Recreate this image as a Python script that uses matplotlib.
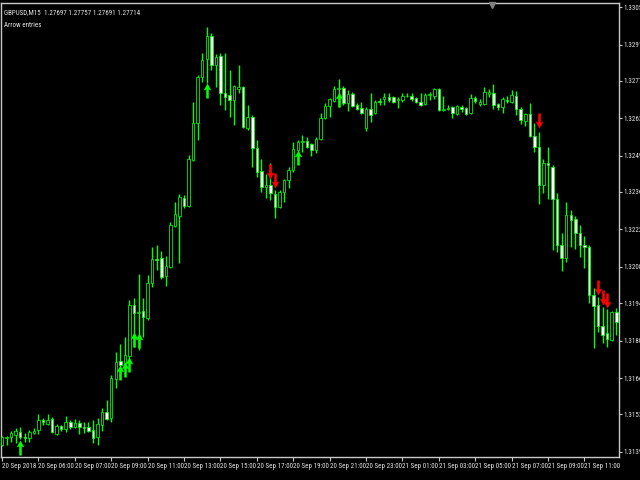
import matplotlib
matplotlib.use("Agg")
import matplotlib.pyplot as plt
import numpy as np
from matplotlib.path import Path

plt.rcParams["font.family"] = ["Noto Sans ExtraCondensed", "Noto Sans Condensed",
                               "Roboto Condensed", "Noto Sans", "DejaVu Sans"]
plt.rcParams["font.stretch"] = "extra-condensed"

# GBPUSD M15 bars
opens = [
    1.31416, 1.31442, 1.31446, 1.31453, 1.31465, 1.31446, 1.31442, 1.31461, 1.31472, 1.31509,
    1.31494, 1.31513, 1.31457, 1.31487, 1.31476, 1.31502, 1.31483, 1.31498, 1.31483, 1.31483,
    1.31472, 1.31446, 1.31491, 1.31539, 1.31517, 1.31662, 1.31729, 1.31715, 1.31748, 1.31938,
    1.31909, 1.31916, 1.31890, 1.32020, 1.32110, 1.32114, 1.32047, 1.32080, 1.32233, 1.32270,
    1.32337, 1.32308, 1.32479, 1.32617, 1.32789, 1.32856, 1.32942, 1.32834, 1.32867, 1.32729,
    1.32722, 1.32703, 1.32744, 1.32751, 1.32599, 1.32640, 1.32524, 1.32438, 1.32378, 1.32386,
    1.32352, 1.32304, 1.32360, 1.32405, 1.32442, 1.32517, 1.32546, 1.32550, 1.32539, 1.32517,
    1.32558, 1.32636, 1.32681, 1.32699, 1.32744, 1.32748, 1.32692, 1.32725, 1.32684, 1.32673,
    1.32599, 1.32669, 1.32655, 1.32699, 1.32707, 1.32714, 1.32714, 1.32703, 1.32703, 1.32718,
    1.32718, 1.32710, 1.32696, 1.32688, 1.32722, 1.32718, 1.32744, 1.32666, 1.32669, 1.32677,
    1.32651, 1.32677, 1.32673, 1.32655, 1.32710, 1.32688, 1.32688, 1.32725, 1.32729, 1.32688,
    1.32677, 1.32703, 1.32696, 1.32718, 1.32669, 1.32625, 1.32651, 1.32569, 1.32528, 1.32386,
    1.32468, 1.32453, 1.32334, 1.32162, 1.32114, 1.32274, 1.32259, 1.32207, 1.32162, 1.32155,
    1.31976, 1.31938, 1.31860, 1.31834, 1.31808, 1.31912,
]
highs = [
    1.31450, 1.31450, 1.31468, 1.31480, 1.31483, 1.31461, 1.31472, 1.31480, 1.31532, 1.31517,
    1.31532, 1.31521, 1.31494, 1.31491, 1.31524, 1.31509, 1.31513, 1.31509, 1.31502, 1.31502,
    1.31509, 1.31517, 1.31554, 1.31584, 1.31677, 1.31763, 1.31793, 1.31819, 1.31957, 1.31964,
    1.32054, 1.31964, 1.32050, 1.32155, 1.32162, 1.32140, 1.32121, 1.32248, 1.32323, 1.32352,
    1.32349, 1.32498, 1.32696, 1.32796, 1.32878, 1.32975, 1.32953, 1.32875, 1.32878, 1.32878,
    1.32815, 1.32759, 1.32834, 1.32755, 1.32684, 1.32647, 1.32554, 1.32483, 1.32427, 1.32468,
    1.32367, 1.32367, 1.32408, 1.32453, 1.32546, 1.32554, 1.32572, 1.32565, 1.32543, 1.32565,
    1.32655, 1.32692, 1.32710, 1.32755, 1.32781, 1.32755, 1.32740, 1.32733, 1.32692, 1.32696,
    1.32677, 1.32729, 1.32703, 1.32710, 1.32729, 1.32729, 1.32718, 1.32714, 1.32729, 1.32729,
    1.32729, 1.32714, 1.32729, 1.32729, 1.32733, 1.32748, 1.32748, 1.32718, 1.32684, 1.32681,
    1.32684, 1.32684, 1.32677, 1.32725, 1.32718, 1.32707, 1.32751, 1.32744, 1.32763, 1.32692,
    1.32714, 1.32718, 1.32740, 1.32737, 1.32677, 1.32655, 1.32692, 1.32617, 1.32584, 1.32483,
    1.32528, 1.32461, 1.32356, 1.32207, 1.32323, 1.32293, 1.32270, 1.32237, 1.32196, 1.32162,
    1.32002, 1.31968, 1.31931, 1.31923, 1.31916, 1.31927,
]
lows = [
    1.31412, 1.31416, 1.31427, 1.31424, 1.31439, 1.31427, 1.31427, 1.31457, 1.31457, 1.31491,
    1.31491, 1.31461, 1.31453, 1.31468, 1.31465, 1.31476, 1.31480, 1.31457, 1.31461, 1.31465,
    1.31424, 1.31416, 1.31468, 1.31509, 1.31502, 1.31629, 1.31666, 1.31703, 1.31733, 1.31782,
    1.31771, 1.31819, 1.31882, 1.32005, 1.32069, 1.32035, 1.32009, 1.32076, 1.32229, 1.32095,
    1.32300, 1.32304, 1.32475, 1.32554, 1.32770, 1.32766, 1.32815, 1.32751, 1.32684, 1.32666,
    1.32640, 1.32610, 1.32729, 1.32599, 1.32591, 1.32453, 1.32416, 1.32360, 1.32337, 1.32330,
    1.32263, 1.32300, 1.32323, 1.32375, 1.32434, 1.32479, 1.32509, 1.32524, 1.32494, 1.32505,
    1.32554, 1.32632, 1.32640, 1.32696, 1.32677, 1.32684, 1.32662, 1.32677, 1.32666, 1.32651,
    1.32587, 1.32621, 1.32651, 1.32684, 1.32684, 1.32696, 1.32692, 1.32673, 1.32696, 1.32714,
    1.32699, 1.32692, 1.32681, 1.32684, 1.32703, 1.32707, 1.32662, 1.32662, 1.32666, 1.32636,
    1.32647, 1.32658, 1.32647, 1.32651, 1.32692, 1.32681, 1.32684, 1.32714, 1.32669, 1.32666,
    1.32655, 1.32692, 1.32692, 1.32647, 1.32613, 1.32606, 1.32565, 1.32509, 1.32315, 1.32356,
    1.32334, 1.32144, 1.32136, 1.32065, 1.32099, 1.32155, 1.32147, 1.32117, 1.32076, 1.31946,
    1.31778, 1.31838, 1.31797, 1.31782, 1.31804, 1.31826,
]
closes = [
    1.31446, 1.31446, 1.31461, 1.31468, 1.31446, 1.31442, 1.31465, 1.31468, 1.31509, 1.31502,
    1.31509, 1.31465, 1.31487, 1.31476, 1.31502, 1.31483, 1.31498, 1.31483, 1.31480, 1.31468,
    1.31442, 1.31494, 1.31539, 1.31513, 1.31666, 1.31726, 1.31715, 1.31752, 1.31938, 1.31909,
    1.31912, 1.31894, 1.32020, 1.32110, 1.32106, 1.32043, 1.32084, 1.32237, 1.32278, 1.32341,
    1.32308, 1.32483, 1.32617, 1.32789, 1.32852, 1.32942, 1.32834, 1.32863, 1.32729, 1.32714,
    1.32703, 1.32755, 1.32751, 1.32602, 1.32640, 1.32524, 1.32434, 1.32378, 1.32386, 1.32356,
    1.32304, 1.32360, 1.32405, 1.32442, 1.32520, 1.32546, 1.32550, 1.32528, 1.32517, 1.32558,
    1.32636, 1.32681, 1.32707, 1.32744, 1.32748, 1.32692, 1.32725, 1.32681, 1.32669, 1.32655,
    1.32669, 1.32647, 1.32696, 1.32696, 1.32714, 1.32703, 1.32696, 1.32707, 1.32718, 1.32718,
    1.32707, 1.32696, 1.32684, 1.32722, 1.32725, 1.32744, 1.32666, 1.32669, 1.32673, 1.32655,
    1.32681, 1.32669, 1.32651, 1.32710, 1.32699, 1.32696, 1.32733, 1.32733, 1.32684, 1.32677,
    1.32707, 1.32699, 1.32722, 1.32669, 1.32628, 1.32651, 1.32569, 1.32528, 1.32386, 1.32468,
    1.32461, 1.32334, 1.32162, 1.32114, 1.32274, 1.32255, 1.32207, 1.32162, 1.32155, 1.31976,
    1.31935, 1.31860, 1.31826, 1.31812, 1.31912, 1.31875,
]

# arrow signals: bar index and price at the top of the glyph
buy_bars = [4, 26, 27, 28, 29, 30, 45, 65, 74]
buy_prices = [1.31435, 1.31715, 1.31726, 1.31744, 1.31838, 1.31834, 1.32766, 1.32517, 1.32733]
sell_bars = [59, 60, 118, 131, 132, 133]
sell_prices = [1.32464, 1.32431, 1.32655, 1.32032, 1.31994, 1.31983]

price_ticks = [1.33050, 1.32910, 1.32775, 1.32635, 1.32495, 1.32360, 1.32220,
               1.32080, 1.31945, 1.31805, 1.31665, 1.31530, 1.31390]
time_tick_bars = list(range(0, 129, 8))
time_labels = ["20 Sep 2018", "20 Sep 06:00", "20 Sep 07:00", "20 Sep 09:00",
               "20 Sep 11:00", "20 Sep 13:00", "20 Sep 15:00", "20 Sep 17:00",
               "20 Sep 19:00", "20 Sep 21:00", "20 Sep 23:00", "21 Sep 01:00",
               "21 Sep 03:00", "21 Sep 05:00", "21 Sep 07:00", "21 Sep 09:00",
               "21 Sep 11:00"]

LIME = "#00ff00"
FRAME = "#c8c8c8"
TXT = "#e4e4e4"
FS = 5.0

o = np.array(opens)
h = np.array(highs)
l = np.array(lows)
c = np.array(closes)
x = np.arange(len(o))

fig = plt.figure(figsize=(6.4, 4.8), dpi=100, facecolor="black")
ax = fig.add_axes([1 / 640, 23 / 480, 618 / 640, 454 / 480])
ax.set_facecolor("black")

ax.vlines(x, l, h, colors=LIME, linewidth=1.0, zorder=2)
# rising bars are hollow (black), falling bars are filled white
bull = c > o
body_lo = np.minimum(o, c)
body_hi = np.maximum(o, c)
faces = np.where(bull, "black", "white")
ax.bar(x, body_hi - body_lo, bottom=body_lo, width=0.55, color=faces,
       edgecolor=LIME, linewidth=0.55, zorder=3)

# thick arrows, anchored at the top of the glyph
up_verts = [(0, 0), (3.8, -7), (1.3, -6), (1.3, -15), (-1.3, -15), (-1.3, -6), (-3.8, -7), (0, 0)]
dn_verts = [(1.3, 0), (1.3, -9), (3.8, -8), (0, -15), (-3.8, -8), (-1.3, -9), (-1.3, 0), (1.3, 0)]
up_arrow = Path(up_verts, closed=True)
dn_arrow = Path(dn_verts, closed=True)
ax.plot(buy_bars, buy_prices, linestyle="none", marker=up_arrow, markersize=21.6,
        color=LIME, markeredgewidth=0, zorder=4)
ax.plot(sell_bars, sell_prices, linestyle="none", marker=dn_arrow, markersize=21.6,
        color="red", markeredgewidth=0, zorder=4)

ax.set_xlim(-0.22, 135.6)
ax.set_ylim(1.31371, 1.33065)

for s in ax.spines.values():
    s.set_color(FRAME)
    s.set_linewidth(1.0)

ax.yaxis.tick_right()
ax.set_yticks(price_ticks)
ax.set_yticklabels(["{:.5f}".format(p) for p in price_ticks])
ax.tick_params(axis="y", colors=FRAME, labelcolor=TXT, length=2, width=0.8,
               pad=1, labelsize=FS)
ax.set_xticks(time_tick_bars)
ax.set_xticklabels(time_labels)
ax.tick_params(axis="x", colors=FRAME, labelcolor=TXT, length=3, width=0.8,
               pad=1.5, labelsize=FS)
for lbl in ax.get_xticklabels():
    lbl.set_horizontalalignment("left")

# chart shift marker on the top edge
ax.plot([0.794], [0.995], transform=ax.transAxes, marker="v", markersize=4,
        color="#808080", clip_on=False, zorder=5)

fig.text(4 / 640, 1 - 12.5 / 480, "GBPUSD,M15  1.27697 1.27757 1.27691 1.27714",
         color=TXT, fontsize=FS, va="center", ha="left")
fig.text(4 / 640, 1 - 25.5 / 480, "Arrow entries", color=TXT, fontsize=FS,
         va="center", ha="left")

fig.savefig("out.png", dpi=100, facecolor="black")
